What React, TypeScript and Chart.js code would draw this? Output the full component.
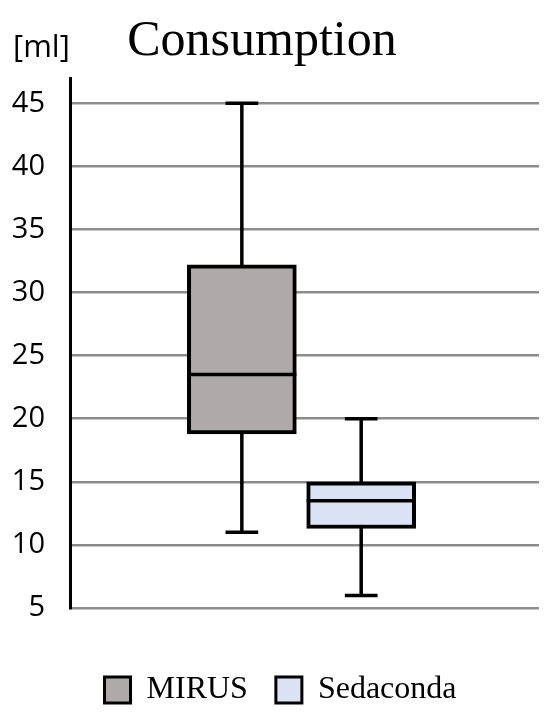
import React, { useEffect, useRef } from 'react';
import { Chart, registerables } from 'chart.js';

Chart.register(...registerables);

const categories = ['MIRUS', 'Sedaconda'];
const positions = [1, 2];
const minValues = [11, 6];
const q1Values = [18.8, 11.3];
const medianValues = [23.5, 13.5];
const q3Values = [32.2, 15.0];
const maxValues = [45, 20];
const yTicks = [5, 10, 15, 20, 25, 30, 35, 40, 45];
const boxColors = ['#aeaaaa', '#dae3f3'];
const titleText = 'Consumption';
const unitText = '[ml]';

const boxPlotPlugin = {
  id: 'boxWhiskers',
  beforeDatasetsDraw(chart: any) {
    const { ctx, scales } = chart;
    const x = scales.x;
    const y = scales.y;
    const meta = chart.getDatasetMeta(0);
    ctx.save();
    ctx.strokeStyle = '#000';
    ctx.lineWidth = 3.5;
    categories.forEach((_, i) => {
      const bar = meta.data[i];
      const cx = x.getPixelForValue(positions[i]);
      const capHalf = bar.width * 0.15;
      const yMin = y.getPixelForValue(minValues[i]);
      const yMax = y.getPixelForValue(maxValues[i]);
      ctx.beginPath();
      ctx.moveTo(cx, yMax);
      ctx.lineTo(cx, yMin);
      ctx.moveTo(cx - capHalf, yMax);
      ctx.lineTo(cx + capHalf, yMax);
      ctx.moveTo(cx - capHalf, yMin);
      ctx.lineTo(cx + capHalf, yMin);
      ctx.stroke();
    });
    ctx.restore();
  },
  afterDatasetsDraw(chart: any) {
    const { ctx, scales } = chart;
    const y = scales.y;
    const meta = chart.getDatasetMeta(0);
    ctx.save();
    ctx.strokeStyle = '#000';
    ctx.lineWidth = 3.5;
    categories.forEach((_, i) => {
      const bar = meta.data[i];
      const ym = y.getPixelForValue(medianValues[i]);
      ctx.beginPath();
      ctx.moveTo(bar.x - bar.width / 2, ym);
      ctx.lineTo(bar.x + bar.width / 2, ym);
      ctx.stroke();
    });
    ctx.restore();
  },
  afterDraw(chart: any) {
    const { ctx, chartArea } = chart;
    ctx.save();
    ctx.fillStyle = '#000';
    ctx.textBaseline = 'alphabetic';
    ctx.textAlign = 'center';
    ctx.font = '50px "Liberation Serif"';
    ctx.fillText(titleText, chartArea.left + 192, chartArea.top - 23);
    ctx.textAlign = 'left';
    ctx.font = '31px "Open Sans"';
    ctx.fillText(unitText, chartArea.left - 57, chartArea.top - 21);
    ctx.restore();
  },
};

export default function App() {
  const ref = useRef<HTMLCanvasElement | null>(null);

  useEffect(() => {
    if (!ref.current) return;
    const chart = new Chart(ref.current, {
      type: 'bar',
      data: {
        datasets: [
          {
            label: 'Consumption',
            data: positions.map((p, i) => ({ x: p, y: [q1Values[i], q3Values[i]] })) as any,
            backgroundColor: boxColors,
            borderColor: '#000',
            borderWidth: 4,
            borderSkipped: false,
            barThickness: 109,
          },
        ],
      },
      options: {
        responsive: false,
        animation: false,
        devicePixelRatio: 1,
        layout: { padding: { top: 70, left: 14, right: 3, bottom: 0 } },
        scales: {
          x: {
            type: 'linear',
            offset: false,
            min: -0.44,
            max: 3.49,
            grid: { display: false, offset: false },
            border: { display: false },
            ticks: { display: false },
            afterFit(scale: any) {
              scale.height = 38;
            },
          },
          y: {
            type: 'linear',
            min: 5,
            max: 47,
            ticks: {
              padding: 25,
              color: '#000',
              font: { family: 'Open Sans', size: 29 },
            },
            afterBuildTicks(scale: any) {
              scale.ticks = yTicks.map((v) => ({ value: v }));
            },
            afterFit(scale: any) {
              scale.width = 48;
              scale._computeLabelArea = () => undefined;
            },
            grid: { color: '#8c8c8c', lineWidth: 2.5, drawTicks: false },
            border: { color: '#000', width: 3 },
          },
        },
        plugins: {
          tooltip: { enabled: false },
          title: { display: false },
          legend: {
            display: true,
            position: 'bottom',
            onClick: () => {},
            labels: {
              boxWidth: 26,
              boxHeight: 26,
              padding: 28,
              color: '#000',
              font: { family: 'Liberation Serif', size: 32 },
              generateLabels: () =>
                categories.map((c, i) => ({
                  text: c,
                  fillStyle: boxColors[i],
                  strokeStyle: '#000',
                  lineWidth: 3,
                  hidden: false,
                  index: i,
                  datasetIndex: 0,
                  fontColor: '#000',
                })),
            },
          },
        },
      },
      plugins: [boxPlotPlugin],
    });
    return () => chart.destroy();
  }, []);

  return (
    <div style={{ height: 700, overflow: 'hidden' }}>
      <canvas ref={ref} width={534} height={708} style={{ display: 'block' }} />
    </div>
  );
}
